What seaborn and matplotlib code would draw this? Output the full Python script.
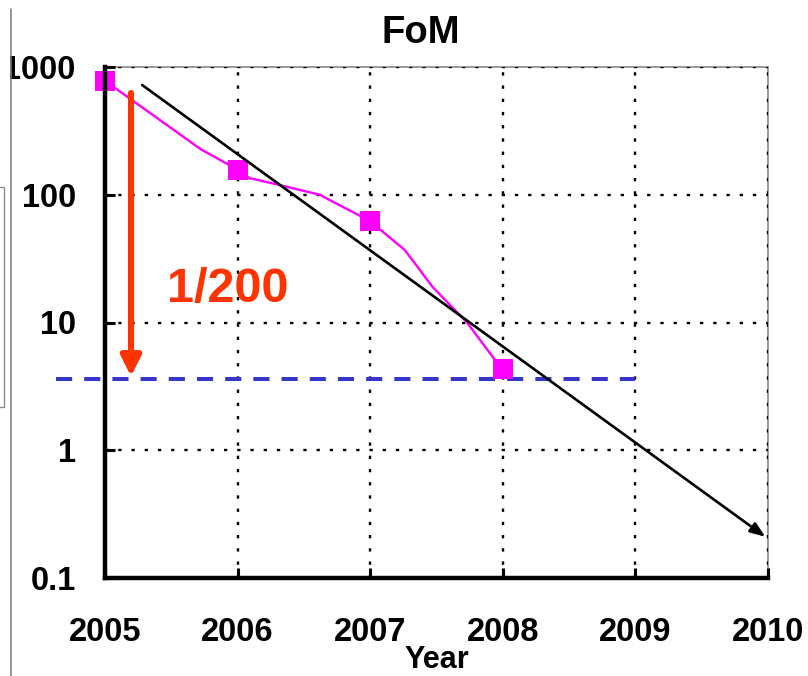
import matplotlib
matplotlib.use("Agg")
import numpy as np
import pandas as pd
import seaborn as sns
import matplotlib.pyplot as plt
from matplotlib.patches import Rectangle
from matplotlib.lines import Line2D
from matplotlib.ticker import NullLocator

# ---- data ----
years = [2005, 2006, 2007, 2008]
fom = [780, 157, 62, 4.3]

curve_years = [2005.0, 2005.72, 2006.0, 2006.09, 2006.32, 2006.47, 2006.62, 2006.72,
               2006.86, 2007.0, 2007.26, 2007.36, 2007.47, 2007.73, 2007.96, 2008.0]
curve_fom = [780, 228, 157, 135, 119, 109, 100, 88,
             74, 62, 37, 27, 19, 10, 4.8, 4.3]

trend_start = (2005.28, 723)
trend_end = (2009.98, 0.21)

target_level = 3.6
target_span = [2004.63, 2009.0]

reduction_x = 2005.196
reduction_from = 627
reduction_label = "1/200"

xticks = [2005, 2006, 2007, 2008, 2009, 2010]
xtick_labels = ["2005", "2006", "2007", "2008", "2009", "2010"]
yticks = [0.1, 1, 10, 100, 1000]
ytick_labels = ["0.1", "1", "10", "100", "1000"]

# ---- style ----
sns.set_style("white")
plt.rcParams["font.family"] = ["Liberation Sans", "DejaVu Sans"]
plt.rcParams["font.weight"] = "bold"
plt.rcParams["text.color"] = "black"
plt.rcParams["xtick.color"] = "black"
plt.rcParams["ytick.color"] = "black"
plt.rcParams["xtick.labelcolor"] = "black"
plt.rcParams["ytick.labelcolor"] = "black"

W, H = 808, 676
fig = plt.figure(figsize=(W / 100, H / 100), dpi=100)
ax = fig.add_axes([105 / W, (H - 578) / H, (768 - 105) / W, (578 - 67) / H])

ax.set_yscale("log")
ax.set_xlim(2005, 2010)
ax.set_ylim(0.1, 1000)

# measured curve and yearly points
sns.lineplot(x=curve_years, y=curve_fom, sort=False, color="#FF00FF", lw=1.7,
             ax=ax, zorder=4)
sns.scatterplot(x=years, y=fom, marker="s", s=205, color="#FF00FF",
                edgecolor="none", ax=ax, zorder=5, clip_on=False)

# trend arrow
ax.annotate("", xy=trend_end, xytext=trend_start,
            arrowprops=dict(arrowstyle="-|>,head_length=0.45,head_width=0.17",
                            color="black", lw=1.9, mutation_scale=20,
                            shrinkA=0, shrinkB=0),
            zorder=6)

# target level
ax.plot(target_span, [target_level, target_level], color="#3636C8", lw=2.9,
        linestyle=(0, (4, 3)), clip_on=False, zorder=3)

# reduction arrow and label
ax.annotate("", xy=(reduction_x, target_level), xytext=(reduction_x, reduction_from),
            arrowprops=dict(arrowstyle="-|>,head_length=0.6,head_width=0.3",
                            color="#FF3300", lw=4.3, mutation_scale=20,
                            shrinkA=0, shrinkB=2),
            zorder=7)
ax.text(2005.47, 14.5, reduction_label, color="#FF3300", fontsize=35,
        fontweight="bold", ha="left", va="baseline", zorder=8)

# ticks and grid
ax.set_xticks(xticks)
ax.set_xticklabels(xtick_labels)
ax.set_yticks(yticks)
ax.set_yticklabels(ytick_labels)
ax.yaxis.set_minor_locator(NullLocator())
ax.xaxis.set_minor_locator(NullLocator())
ax.tick_params(axis="both", which="major", direction="in", length=7, width=2.2,
               color="black", labelcolor="black", labelsize=23.5, left=True, bottom=True)
ax.tick_params(axis="x", pad=28)
ax.tick_params(axis="y", pad=21)

ax.set_axisbelow("line")
ax.grid(True, which="major", color="black", linestyle=(0, (1.4, 4.2)), linewidth=1.7)

for side in ["left", "bottom"]:
    ax.spines[side].set_color("black")
    ax.spines[side].set_linewidth(3.2)
    ax.spines[side].set_zorder(9)
for side in ["top", "right"]:
    ax.spines[side].set_color("#9a9a9a")
    ax.spines[side].set_linewidth(1.4)
    ax.spines[side].set_zorder(1)

ax.set_xlabel("")
ax.set_ylabel("")

fig.text(421 / W, (H - 43) / H, "FoM", ha="center", va="baseline",
         fontsize=27.5, fontweight="bold", color="black")
fig.text(437 / W, 1.0 / H, "Year", ha="center", va="bottom",
         fontsize=22, fontweight="bold", color="black")

# page frame along the left edge
fig.add_artist(Rectangle((0, 0), 10 / W, 1, transform=fig.transFigure,
                         facecolor="white", edgecolor="none", zorder=10))
fig.add_artist(Line2D([10.5 / W, 10.5 / W], [0, (H - 9) / H],
                      transform=fig.transFigure, color="#7a7a7a", lw=1.1, zorder=11))
fig.add_artist(Rectangle((-10 / W, (H - 407) / H), 13.5 / W, 220 / H,
                         transform=fig.transFigure, facecolor="none",
                         edgecolor="#8a8a8a", lw=1.0, zorder=11))

fig.savefig("out.png", dpi=100)
